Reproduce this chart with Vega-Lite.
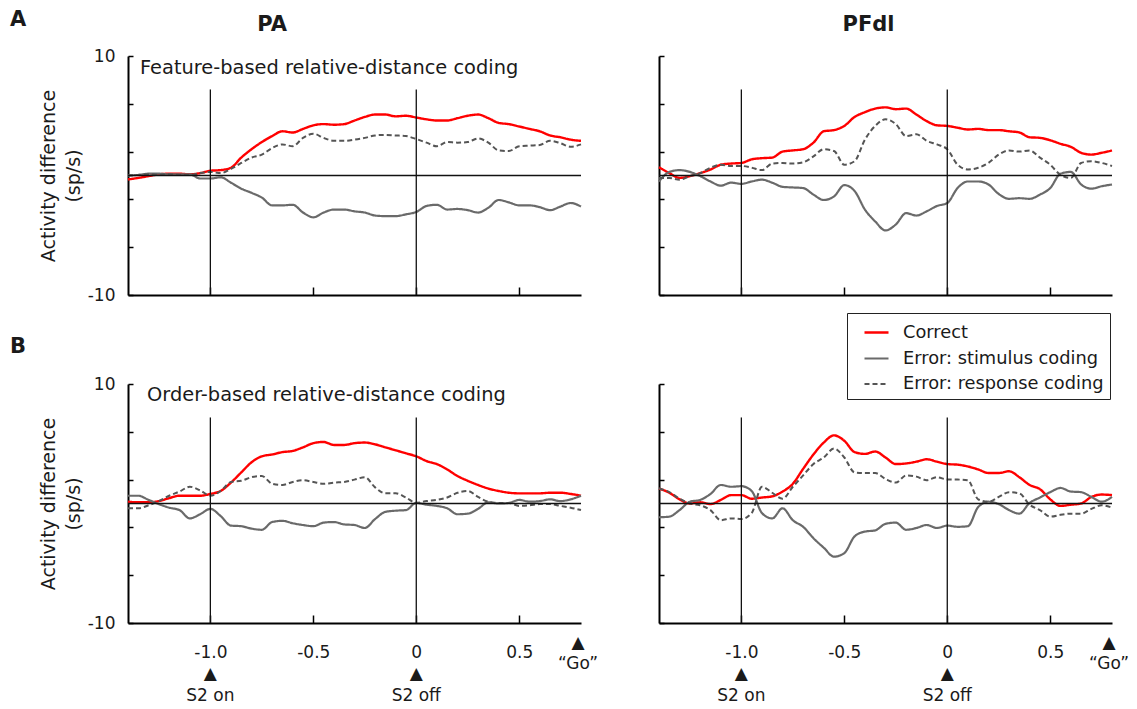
{
  "$schema": "https://vega.github.io/schema/vega-lite/v6.json",
  "autosize": {"type": "none"},
  "padding": {"left": 128, "top": 56, "right": 1009, "bottom": 653},
  "background": "#ffffff",
  "columns": 2,
  "spacing": {"row": 89, "column": 78},
  "bounds": "flush",
  "resolve": {"scale": {"color": "shared", "strokeDash": "shared", "strokeWidth": "shared"}},
  "datasets": {
    "LA": [
      {"t": -1.4, "Correct": -0.33, "Error: stimulus coding": 0, "Error: response coding": 0},
      {"t": -1.35, "Correct": -0.2, "Error: stimulus coding": 0.05, "Error: response coding": 0.05},
      {"t": -1.3, "Correct": -0.05, "Error: stimulus coding": 0.15, "Error: response coding": 0.1},
      {"t": -1.25, "Correct": 0.1, "Error: stimulus coding": 0.15, "Error: response coding": 0.05},
      {"t": -1.2, "Correct": 0.15, "Error: stimulus coding": 0.1, "Error: response coding": 0.1},
      {"t": -1.15, "Correct": 0.15, "Error: stimulus coding": 0.1, "Error: response coding": 0.05},
      {"t": -1.1, "Correct": 0.1, "Error: stimulus coding": 0.1, "Error: response coding": 0.05},
      {"t": -1.05, "Correct": 0.2, "Error: stimulus coding": -0.25, "Error: response coding": 0.2},
      {"t": -1.0, "Correct": 0.4, "Error: stimulus coding": -0.25, "Error: response coding": 0.3},
      {"t": -0.95, "Correct": 0.45, "Error: stimulus coding": -0.15, "Error: response coding": 0.2},
      {"t": -0.9, "Correct": 0.65, "Error: stimulus coding": -0.6, "Error: response coding": 0.55},
      {"t": -0.85, "Correct": 1.5, "Error: stimulus coding": -1.1, "Error: response coding": 1.05},
      {"t": -0.8, "Correct": 2.2, "Error: stimulus coding": -1.45, "Error: response coding": 1.5},
      {"t": -0.75, "Correct": 2.8, "Error: stimulus coding": -1.85, "Error: response coding": 1.75},
      {"t": -0.7, "Correct": 3.3, "Error: stimulus coding": -2.5, "Error: response coding": 2.3},
      {"t": -0.65, "Correct": 3.7, "Error: stimulus coding": -2.5, "Error: response coding": 2.6},
      {"t": -0.6, "Correct": 3.6, "Error: stimulus coding": -2.45, "Error: response coding": 2.45},
      {"t": -0.55, "Correct": 3.9, "Error: stimulus coding": -3.1, "Error: response coding": 3.15},
      {"t": -0.5, "Correct": 4.2, "Error: stimulus coding": -3.5, "Error: response coding": 3.5},
      {"t": -0.45, "Correct": 4.3, "Error: stimulus coding": -3.1, "Error: response coding": 3.15},
      {"t": -0.4, "Correct": 4.25, "Error: stimulus coding": -2.85, "Error: response coding": 2.9},
      {"t": -0.35, "Correct": 4.3, "Error: stimulus coding": -2.85, "Error: response coding": 2.9},
      {"t": -0.3, "Correct": 4.6, "Error: stimulus coding": -3.0, "Error: response coding": 3.0},
      {"t": -0.25, "Correct": 4.9, "Error: stimulus coding": -3.1, "Error: response coding": 3.15},
      {"t": -0.2, "Correct": 5.1, "Error: stimulus coding": -3.35, "Error: response coding": 3.35},
      {"t": -0.15, "Correct": 5.1, "Error: stimulus coding": -3.4, "Error: response coding": 3.4},
      {"t": -0.1, "Correct": 4.95, "Error: stimulus coding": -3.4, "Error: response coding": 3.35},
      {"t": -0.05, "Correct": 5.0, "Error: stimulus coding": -3.25, "Error: response coding": 3.3},
      {"t": 0, "Correct": 4.85, "Error: stimulus coding": -3.05, "Error: response coding": 3.05},
      {"t": 0.05, "Correct": 4.7, "Error: stimulus coding": -2.55, "Error: response coding": 2.75},
      {"t": 0.1, "Correct": 4.6, "Error: stimulus coding": -2.45, "Error: response coding": 2.45},
      {"t": 0.15, "Correct": 4.6, "Error: stimulus coding": -2.85, "Error: response coding": 2.8},
      {"t": 0.2, "Correct": 4.8, "Error: stimulus coding": -2.8, "Error: response coding": 2.75},
      {"t": 0.25, "Correct": 5.0, "Error: stimulus coding": -2.9, "Error: response coding": 2.8},
      {"t": 0.3, "Correct": 5.1, "Error: stimulus coding": -3.1, "Error: response coding": 3.1},
      {"t": 0.35, "Correct": 4.8, "Error: stimulus coding": -2.7, "Error: response coding": 2.75},
      {"t": 0.4, "Correct": 4.4, "Error: stimulus coding": -2.05, "Error: response coding": 2.1},
      {"t": 0.45, "Correct": 4.3, "Error: stimulus coding": -2.25, "Error: response coding": 2.05},
      {"t": 0.5, "Correct": 4.1, "Error: stimulus coding": -2.5, "Error: response coding": 2.45},
      {"t": 0.55, "Correct": 3.9, "Error: stimulus coding": -2.5, "Error: response coding": 2.5},
      {"t": 0.6, "Correct": 3.7, "Error: stimulus coding": -2.65, "Error: response coding": 2.55},
      {"t": 0.65, "Correct": 3.35, "Error: stimulus coding": -2.9, "Error: response coding": 2.9},
      {"t": 0.7, "Correct": 3.2, "Error: stimulus coding": -2.6, "Error: response coding": 2.7},
      {"t": 0.75, "Correct": 3.0, "Error: stimulus coding": -2.3, "Error: response coding": 2.4},
      {"t": 0.8, "Correct": 2.9, "Error: stimulus coding": -2.6, "Error: response coding": 2.6}
    ],
    "RA": [
      {"t": -1.4, "Correct": 0.7, "Error: stimulus coding": -0.5, "Error: response coding": -0.2},
      {"t": -1.35, "Correct": 0.2, "Error: stimulus coding": 0.3, "Error: response coding": -0.2},
      {"t": -1.3, "Correct": -0.2, "Error: stimulus coding": 0.45, "Error: response coding": -0.35},
      {"t": -1.25, "Correct": -0.05, "Error: stimulus coding": 0.3, "Error: response coding": -0.05},
      {"t": -1.2, "Correct": 0.2, "Error: stimulus coding": -0.05, "Error: response coding": 0.2},
      {"t": -1.15, "Correct": 0.5, "Error: stimulus coding": -0.5, "Error: response coding": 0.65},
      {"t": -1.1, "Correct": 0.9, "Error: stimulus coding": -0.85, "Error: response coding": 0.9},
      {"t": -1.05, "Correct": 1.0, "Error: stimulus coding": -0.6, "Error: response coding": 0.8},
      {"t": -1.0, "Correct": 1.05, "Error: stimulus coding": -0.7, "Error: response coding": 0.8},
      {"t": -0.95, "Correct": 1.35, "Error: stimulus coding": -0.5, "Error: response coding": 0.65},
      {"t": -0.9, "Correct": 1.45, "Error: stimulus coding": -0.35, "Error: response coding": 0.45},
      {"t": -0.85, "Correct": 1.5, "Error: stimulus coding": -0.6, "Error: response coding": 1.0},
      {"t": -0.8, "Correct": 2.0, "Error: stimulus coding": -0.95, "Error: response coding": 1.05},
      {"t": -0.75, "Correct": 2.1, "Error: stimulus coding": -1.0, "Error: response coding": 1.0},
      {"t": -0.7, "Correct": 2.2, "Error: stimulus coding": -1.05, "Error: response coding": 1.1},
      {"t": -0.65, "Correct": 2.75, "Error: stimulus coding": -1.6, "Error: response coding": 1.6},
      {"t": -0.6, "Correct": 3.7, "Error: stimulus coding": -2.05, "Error: response coding": 2.2},
      {"t": -0.55, "Correct": 3.8, "Error: stimulus coding": -1.75, "Error: response coding": 2.05},
      {"t": -0.5, "Correct": 4.15, "Error: stimulus coding": -0.8, "Error: response coding": 0.9},
      {"t": -0.45, "Correct": 4.9, "Error: stimulus coding": -1.3, "Error: response coding": 1.2},
      {"t": -0.4, "Correct": 5.3, "Error: stimulus coding": -2.85, "Error: response coding": 3.0},
      {"t": -0.35, "Correct": 5.6, "Error: stimulus coding": -3.85, "Error: response coding": 4.15},
      {"t": -0.3, "Correct": 5.7, "Error: stimulus coding": -4.6, "Error: response coding": 4.7},
      {"t": -0.25, "Correct": 5.55, "Error: stimulus coding": -4.1, "Error: response coding": 4.3},
      {"t": -0.2, "Correct": 5.6, "Error: stimulus coding": -3.15, "Error: response coding": 3.3},
      {"t": -0.15, "Correct": 5.1, "Error: stimulus coding": -3.35, "Error: response coding": 3.45},
      {"t": -0.1, "Correct": 4.55, "Error: stimulus coding": -3.0, "Error: response coding": 2.9},
      {"t": -0.05, "Correct": 4.2, "Error: stimulus coding": -2.55, "Error: response coding": 2.6},
      {"t": 0, "Correct": 4.15, "Error: stimulus coding": -2.3, "Error: response coding": 2.2},
      {"t": 0.05, "Correct": 4.0, "Error: stimulus coding": -1.05, "Error: response coding": 0.9},
      {"t": 0.1, "Correct": 3.85, "Error: stimulus coding": -0.5, "Error: response coding": 0.5},
      {"t": 0.15, "Correct": 3.9, "Error: stimulus coding": -0.5, "Error: response coding": 0.65},
      {"t": 0.2, "Correct": 3.8, "Error: stimulus coding": -0.75, "Error: response coding": 1.05},
      {"t": 0.25, "Correct": 3.8, "Error: stimulus coding": -1.55, "Error: response coding": 1.75},
      {"t": 0.3, "Correct": 3.7, "Error: stimulus coding": -1.95, "Error: response coding": 2.1},
      {"t": 0.35, "Correct": 3.6, "Error: stimulus coding": -1.9, "Error: response coding": 2.0},
      {"t": 0.4, "Correct": 3.2, "Error: stimulus coding": -1.95, "Error: response coding": 2.1},
      {"t": 0.45, "Correct": 3.15, "Error: stimulus coding": -1.6, "Error: response coding": 1.5},
      {"t": 0.5, "Correct": 2.95, "Error: stimulus coding": -1.05, "Error: response coding": 0.9},
      {"t": 0.55, "Correct": 2.65, "Error: stimulus coding": 0.15, "Error: response coding": 0.05},
      {"t": 0.6, "Correct": 2.4, "Error: stimulus coding": 0.3, "Error: response coding": -0.2},
      {"t": 0.65, "Correct": 1.9, "Error: stimulus coding": -0.75, "Error: response coding": 1.05},
      {"t": 0.7, "Correct": 1.75, "Error: stimulus coding": -1.1, "Error: response coding": 1.2},
      {"t": 0.75, "Correct": 1.9, "Error: stimulus coding": -0.9, "Error: response coding": 1.05},
      {"t": 0.8, "Correct": 2.1, "Error: stimulus coding": -0.75, "Error: response coding": 0.8}
    ],
    "LB": [
      {"t": -1.4, "Correct": 0.15, "Error: stimulus coding": 0.65, "Error: response coding": -0.4},
      {"t": -1.35, "Correct": 0.1, "Error: stimulus coding": 0.65, "Error: response coding": -0.4},
      {"t": -1.3, "Correct": 0.1, "Error: stimulus coding": 0.3, "Error: response coding": -0.15},
      {"t": -1.25, "Correct": 0.2, "Error: stimulus coding": -0.05, "Error: response coding": 0.2},
      {"t": -1.2, "Correct": 0.45, "Error: stimulus coding": -0.35, "Error: response coding": 0.65},
      {"t": -1.15, "Correct": 0.65, "Error: stimulus coding": -0.55, "Error: response coding": 1.0},
      {"t": -1.1, "Correct": 0.65, "Error: stimulus coding": -1.25, "Error: response coding": 1.4},
      {"t": -1.05, "Correct": 0.65, "Error: stimulus coding": -0.9, "Error: response coding": 1.1},
      {"t": -1.0, "Correct": 0.8, "Error: stimulus coding": -0.45, "Error: response coding": 0.65},
      {"t": -0.95, "Correct": 1.05, "Error: stimulus coding": -1.05, "Error: response coding": 1.05},
      {"t": -0.9, "Correct": 1.75, "Error: stimulus coding": -1.85, "Error: response coding": 1.8},
      {"t": -0.85, "Correct": 2.6, "Error: stimulus coding": -1.9, "Error: response coding": 1.9},
      {"t": -0.8, "Correct": 3.45, "Error: stimulus coding": -2.1, "Error: response coding": 2.2},
      {"t": -0.75, "Correct": 3.95, "Error: stimulus coding": -2.2, "Error: response coding": 2.3},
      {"t": -0.7, "Correct": 4.1, "Error: stimulus coding": -1.55, "Error: response coding": 1.65},
      {"t": -0.65, "Correct": 4.3, "Error: stimulus coding": -1.45, "Error: response coding": 1.55},
      {"t": -0.6, "Correct": 4.4, "Error: stimulus coding": -1.65, "Error: response coding": 1.8},
      {"t": -0.55, "Correct": 4.7, "Error: stimulus coding": -1.8, "Error: response coding": 1.95},
      {"t": -0.5, "Correct": 5.05, "Error: stimulus coding": -1.9, "Error: response coding": 1.8},
      {"t": -0.45, "Correct": 5.15, "Error: stimulus coding": -1.6, "Error: response coding": 1.65},
      {"t": -0.4, "Correct": 4.9, "Error: stimulus coding": -1.55, "Error: response coding": 1.75},
      {"t": -0.35, "Correct": 4.9, "Error: stimulus coding": -1.75, "Error: response coding": 1.8},
      {"t": -0.3, "Correct": 5.05, "Error: stimulus coding": -1.8, "Error: response coding": 2.0},
      {"t": -0.25, "Correct": 5.1, "Error: stimulus coding": -2.05, "Error: response coding": 2.2},
      {"t": -0.2, "Correct": 4.95, "Error: stimulus coding": -1.3, "Error: response coding": 1.35},
      {"t": -0.15, "Correct": 4.7, "Error: stimulus coding": -0.7, "Error: response coding": 0.85},
      {"t": -0.1, "Correct": 4.45, "Error: stimulus coding": -0.6, "Error: response coding": 0.85},
      {"t": -0.05, "Correct": 4.2, "Error: stimulus coding": -0.55, "Error: response coding": 0.5},
      {"t": 0, "Correct": 3.95, "Error: stimulus coding": 0.05, "Error: response coding": 0.05},
      {"t": 0.05, "Correct": 3.55, "Error: stimulus coding": -0.1, "Error: response coding": 0.2},
      {"t": 0.1, "Correct": 3.3, "Error: stimulus coding": -0.2, "Error: response coding": 0.3},
      {"t": 0.15, "Correct": 2.85, "Error: stimulus coding": -0.4, "Error: response coding": 0.5},
      {"t": 0.2, "Correct": 2.3, "Error: stimulus coding": -0.9, "Error: response coding": 0.9},
      {"t": 0.25, "Correct": 1.9, "Error: stimulus coding": -0.85, "Error: response coding": 1.05},
      {"t": 0.3, "Correct": 1.55, "Error: stimulus coding": -0.45, "Error: response coding": 0.55},
      {"t": 0.35, "Correct": 1.25, "Error: stimulus coding": 0.1, "Error: response coding": 0.15},
      {"t": 0.4, "Correct": 1.05, "Error: stimulus coding": 0, "Error: response coding": 0.05},
      {"t": 0.45, "Correct": 0.9, "Error: stimulus coding": 0.05, "Error: response coding": 0.05},
      {"t": 0.5, "Correct": 0.85, "Error: stimulus coding": 0.3, "Error: response coding": -0.2},
      {"t": 0.55, "Correct": 0.85, "Error: stimulus coding": 0.15, "Error: response coding": -0.15},
      {"t": 0.6, "Correct": 0.85, "Error: stimulus coding": 0.2, "Error: response coding": -0.05},
      {"t": 0.65, "Correct": 0.9, "Error: stimulus coding": 0.35, "Error: response coding": -0.05},
      {"t": 0.7, "Correct": 0.9, "Error: stimulus coding": 0.2, "Error: response coding": -0.2},
      {"t": 0.75, "Correct": 0.8, "Error: stimulus coding": 0.35, "Error: response coding": -0.35},
      {"t": 0.8, "Correct": 0.65, "Error: stimulus coding": 0.65, "Error: response coding": -0.55}
    ],
    "RB": [
      {"t": -1.4, "Correct": 1.25, "Error: stimulus coding": -1.15, "Error: response coding": 1.25},
      {"t": -1.35, "Correct": 0.9, "Error: stimulus coding": -1.1, "Error: response coding": 0.95},
      {"t": -1.3, "Correct": 0.35, "Error: stimulus coding": -0.55, "Error: response coding": 0.4},
      {"t": -1.25, "Correct": 0, "Error: stimulus coding": 0.15, "Error: response coding": 0},
      {"t": -1.2, "Correct": 0.1, "Error: stimulus coding": 0.3, "Error: response coding": -0.15},
      {"t": -1.15, "Correct": -0.05, "Error: stimulus coding": 0.8, "Error: response coding": -0.55},
      {"t": -1.1, "Correct": 0.3, "Error: stimulus coding": 1.55, "Error: response coding": -1.4},
      {"t": -1.05, "Correct": 0.7, "Error: stimulus coding": 1.4, "Error: response coding": -1.25},
      {"t": -1.0, "Correct": 0.7, "Error: stimulus coding": 1.45, "Error: response coding": -1.3},
      {"t": -0.95, "Correct": 0.4, "Error: stimulus coding": 1.05, "Error: response coding": -0.8},
      {"t": -0.9, "Correct": 0.5, "Error: stimulus coding": -0.8, "Error: response coding": 1.4},
      {"t": -0.85, "Correct": 0.6, "Error: stimulus coding": -1.25, "Error: response coding": 0.9},
      {"t": -0.8, "Correct": 1.0, "Error: stimulus coding": -0.4, "Error: response coding": 0.4},
      {"t": -0.75, "Correct": 1.65, "Error: stimulus coding": -1.4, "Error: response coding": 1.4},
      {"t": -0.7, "Correct": 2.9, "Error: stimulus coding": -1.95, "Error: response coding": 2.35},
      {"t": -0.65, "Correct": 4.1, "Error: stimulus coding": -2.9, "Error: response coding": 3.3},
      {"t": -0.6, "Correct": 5.1, "Error: stimulus coding": -3.7, "Error: response coding": 3.85},
      {"t": -0.55, "Correct": 5.7, "Error: stimulus coding": -4.45, "Error: response coding": 4.6},
      {"t": -0.5, "Correct": 5.25, "Error: stimulus coding": -4.15, "Error: response coding": 3.85},
      {"t": -0.45, "Correct": 4.3, "Error: stimulus coding": -2.75, "Error: response coding": 2.6},
      {"t": -0.4, "Correct": 4.15, "Error: stimulus coding": -2.35, "Error: response coding": 2.55},
      {"t": -0.35, "Correct": 4.35, "Error: stimulus coding": -2.25, "Error: response coding": 2.55},
      {"t": -0.3, "Correct": 3.85, "Error: stimulus coding": -1.7, "Error: response coding": 2.05},
      {"t": -0.25, "Correct": 3.3, "Error: stimulus coding": -1.6, "Error: response coding": 1.75},
      {"t": -0.2, "Correct": 3.35, "Error: stimulus coding": -2.2, "Error: response coding": 2.35},
      {"t": -0.15, "Correct": 3.5, "Error: stimulus coding": -2.05, "Error: response coding": 2.25},
      {"t": -0.1, "Correct": 3.7, "Error: stimulus coding": -1.8, "Error: response coding": 1.95},
      {"t": -0.05, "Correct": 3.5, "Error: stimulus coding": -2.05, "Error: response coding": 2.2},
      {"t": 0, "Correct": 3.3, "Error: stimulus coding": -1.85, "Error: response coding": 2.0},
      {"t": 0.05, "Correct": 3.25, "Error: stimulus coding": -1.95, "Error: response coding": 2.0},
      {"t": 0.1, "Correct": 3.1, "Error: stimulus coding": -1.9, "Error: response coding": 1.95},
      {"t": 0.15, "Correct": 2.85, "Error: stimulus coding": -0.3, "Error: response coding": 0.35},
      {"t": 0.2, "Correct": 2.55, "Error: stimulus coding": 0.15, "Error: response coding": 0.15},
      {"t": 0.25, "Correct": 2.55, "Error: stimulus coding": -0.05, "Error: response coding": 0.55},
      {"t": 0.3, "Correct": 2.7, "Error: stimulus coding": -0.55, "Error: response coding": 0.95},
      {"t": 0.35, "Correct": 2.2, "Error: stimulus coding": -0.85, "Error: response coding": 0.85},
      {"t": 0.4, "Correct": 1.55, "Error: stimulus coding": 0.05, "Error: response coding": -0.1},
      {"t": 0.45, "Correct": 1.2, "Error: stimulus coding": 0.5, "Error: response coding": -0.55},
      {"t": 0.5, "Correct": 0.35, "Error: stimulus coding": 0.95, "Error: response coding": -1.1},
      {"t": 0.55, "Correct": -0.2, "Error: stimulus coding": 1.3, "Error: response coding": -0.95},
      {"t": 0.6, "Correct": -0.1, "Error: stimulus coding": 1.0, "Error: response coding": -0.85},
      {"t": 0.65, "Correct": 0, "Error: stimulus coding": 0.95, "Error: response coding": -0.85},
      {"t": 0.7, "Correct": 0.55, "Error: stimulus coding": 0.55, "Error: response coding": -0.45},
      {"t": 0.75, "Correct": 0.75, "Error: stimulus coding": 0.15, "Error: response coding": -0.15},
      {"t": 0.8, "Correct": 0.7, "Error: stimulus coding": 0.55, "Error: response coding": -0.35}
    ]
  },
  "concat": [
    {
      "width": 453, "height": 239,
      "layer": [
        {
          "data": {"name": "LA"},
          "transform": [{"fold": ["Correct", "Error: stimulus coding", "Error: response coding"], "as": ["series", "v"]}],
          "mark": {"type": "line", "interpolate": "monotone"},
          "encoding": {
            "x": {"field": "t", "type": "quantitative", "scale": {"domain": [-1.4, 0.8], "nice": false, "zero": false}, "axis": {"values": [-1, -0.5, 0, 0.5], "labels": false, "title": null, "tickSize": -8}},
            "y": {"field": "v", "type": "quantitative", "scale": {"domain": [-10, 10], "nice": false}, "axis": {"values": [-10, -8, -6, -4, -2, 0, 2, 4, 6, 8, 10], "labelExpr": "datum.value == 10 ? '10' : datum.value == 0 ? '0' : datum.value == -10 ? '-10' : ''", "title": ["Activity difference", "(sp/s)"]}},
            "color": {"field": "series", "type": "nominal", "scale": {"domain": ["Correct", "Error: stimulus coding", "Error: response coding"], "range": ["#ff0000", "#6a6a6a", "#555555"]}, "legend": {"title": null, "orient": "none", "legendX": 719, "legendY": 257}},
            "strokeDash": {"field": "series", "type": "nominal", "scale": {"domain": ["Correct", "Error: stimulus coding", "Error: response coding"], "range": [[1, 0], [1, 0], [5, 3]]}, "legend": {"title": null, "orient": "none", "legendX": 719, "legendY": 257}},
            "strokeWidth": {"field": "series", "type": "nominal", "scale": {"domain": ["Correct", "Error: stimulus coding", "Error: response coding"], "range": [2.4, 2, 1.2]}, "legend": {"title": null, "orient": "none", "legendX": 719, "legendY": 257}}
          }
        },
        {"data": {"values": [{"z": 0}]}, "mark": {"type": "rule", "color": "#111111", "strokeWidth": 1.3}, "encoding": {"y": {"datum": 0}}},
        {"data": {"values": [{"t": -1}, {"t": 0}]}, "mark": {"type": "rule", "color": "#111111", "strokeWidth": 1.3}, "encoding": {"x": {"field": "t", "type": "quantitative"}, "y": {"datum": 7.2}, "y2": {"datum": -10}}},
        {"data": {"values": [{"lab": "Feature-based relative-distance coding"}]}, "mark": {"type": "text", "align": "left", "baseline": "top", "fontSize": 19.4, "color": "#1a1a1a", "dx": 12, "dy": 3}, "encoding": {"x": {"datum": -1.4}, "y": {"datum": 10}, "text": {"field": "lab"}}},
        {"data": {"values": [{"lab": "A"}]}, "mark": {"type": "text", "align": "left", "baseline": "top", "fontSize": 21, "fontWeight": "bold", "color": "#1a1a1a", "dx": -118, "dy": -47}, "encoding": {"x": {"datum": -1.4}, "y": {"datum": 10}, "text": {"field": "lab"}}},
        {"data": {"values": [{"lab": "PA"}]}, "mark": {"type": "text", "align": "center", "baseline": "top", "fontSize": 21, "fontWeight": "bold", "color": "#1a1a1a", "dy": -42}, "encoding": {"x": {"datum": -0.7}, "y": {"datum": 10}, "text": {"field": "lab"}}}
      ]
    },
    {
      "width": 453, "height": 239,
      "title": {"text": "PFdl", "dx": -17},
      "layer": [
        {
          "data": {"name": "RA"},
          "transform": [{"fold": ["Correct", "Error: stimulus coding", "Error: response coding"], "as": ["series", "v"]}],
          "mark": {"type": "line", "interpolate": "monotone"},
          "encoding": {
            "x": {"field": "t", "type": "quantitative", "scale": {"domain": [-1.4, 0.8], "nice": false, "zero": false}, "axis": {"values": [-1, -0.5, 0, 0.5], "labels": false, "title": null, "tickSize": -8}},
            "y": {"field": "v", "type": "quantitative", "scale": {"domain": [-10, 10], "nice": false}, "axis": {"values": [-10, -8, -6, -4, -2, 0, 2, 4, 6, 8, 10], "labels": false, "title": null}},
            "color": {"field": "series", "type": "nominal"},
            "strokeDash": {"field": "series", "type": "nominal"},
            "strokeWidth": {"field": "series", "type": "nominal"}
          }
        },
        {"data": {"values": [{"z": 0}]}, "mark": {"type": "rule", "color": "#111111", "strokeWidth": 1.3}, "encoding": {"y": {"datum": 0}}},
        {"data": {"values": [{"t": -1}, {"t": 0}]}, "mark": {"type": "rule", "color": "#111111", "strokeWidth": 1.3}, "encoding": {"x": {"field": "t", "type": "quantitative"}, "y": {"datum": 7.2}, "y2": {"datum": -10}}}
      ]
    },
    {
      "width": 453, "height": 239,
      "layer": [
        {
          "data": {"name": "LB"},
          "transform": [{"fold": ["Correct", "Error: stimulus coding", "Error: response coding"], "as": ["series", "v"]}],
          "mark": {"type": "line", "interpolate": "monotone"},
          "encoding": {
            "x": {"field": "t", "type": "quantitative", "scale": {"domain": [-1.4, 0.8], "nice": false, "zero": false}, "axis": {"values": [-1, -0.5, 0, 0.5], "labelExpr": "datum.value == -1 ? '-1.0' : datum.value == -0.5 ? '-0.5' : datum.value == 0 ? '0' : '0.5'", "title": null, "tickSize": -8, "labelPadding": 29}},
            "y": {"field": "v", "type": "quantitative", "scale": {"domain": [-10, 10], "nice": false}, "axis": {"values": [-10, -8, -6, -4, -2, 0, 2, 4, 6, 8, 10], "labelExpr": "datum.value == 10 ? '10' : datum.value == 0 ? '0' : datum.value == -10 ? '-10' : ''", "title": ["Activity difference", "(sp/s)"]}},
            "color": {"field": "series", "type": "nominal"},
            "strokeDash": {"field": "series", "type": "nominal"},
            "strokeWidth": {"field": "series", "type": "nominal"}
          }
        },
        {"data": {"values": [{"z": 0}]}, "mark": {"type": "rule", "color": "#111111", "strokeWidth": 1.3}, "encoding": {"y": {"datum": 0}}},
        {"data": {"values": [{"t": -1}, {"t": 0}]}, "mark": {"type": "rule", "color": "#111111", "strokeWidth": 1.3}, "encoding": {"x": {"field": "t", "type": "quantitative"}, "y": {"datum": 7.2}, "y2": {"datum": -10}}},
        {"data": {"values": [{"lab": "Order-based relative-distance coding"}]}, "mark": {"type": "text", "align": "left", "baseline": "top", "fontSize": 19.4, "color": "#1a1a1a", "dx": 19, "dy": 2}, "encoding": {"x": {"datum": -1.4}, "y": {"datum": 10}, "text": {"field": "lab"}}},
        {"data": {"values": [{"lab": "B"}]}, "mark": {"type": "text", "align": "left", "baseline": "top", "fontSize": 21, "fontWeight": "bold", "color": "#1a1a1a", "dx": -118, "dy": -48}, "encoding": {"x": {"datum": -1.4}, "y": {"datum": 10}, "text": {"field": "lab"}}},
        {"data": {"values": [{"t": -1, "lab": "▲\nS2 on"}, {"t": 0, "lab": "▲\nS2 off"}]}, "mark": {"type": "text", "align": "center", "baseline": "top", "fontSize": 17, "lineBreak": "\n", "lineHeight": 22, "color": "#1a1a1a", "dy": 43}, "encoding": {"x": {"field": "t", "type": "quantitative"}, "y": {"datum": -10}, "text": {"field": "lab"}}},
        {"data": {"values": [{"t": 0.8, "lab": "▲\n“Go”"}]}, "mark": {"type": "text", "align": "center", "baseline": "top", "fontSize": 17, "lineBreak": "\n", "lineHeight": 21, "color": "#1a1a1a", "dy": 12, "dx": -3}, "encoding": {"x": {"field": "t", "type": "quantitative"}, "y": {"datum": -10}, "text": {"field": "lab"}}}
      ]
    },
    {
      "width": 453, "height": 239,
      "layer": [
        {
          "data": {"name": "RB"},
          "transform": [{"fold": ["Correct", "Error: stimulus coding", "Error: response coding"], "as": ["series", "v"]}],
          "mark": {"type": "line", "interpolate": "monotone"},
          "encoding": {
            "x": {"field": "t", "type": "quantitative", "scale": {"domain": [-1.4, 0.8], "nice": false, "zero": false}, "axis": {"values": [-1, -0.5, 0, 0.5], "labelExpr": "datum.value == -1 ? '-1.0' : datum.value == -0.5 ? '-0.5' : datum.value == 0 ? '0' : '0.5'", "title": null, "tickSize": -8, "labelPadding": 29}},
            "y": {"field": "v", "type": "quantitative", "scale": {"domain": [-10, 10], "nice": false}, "axis": {"values": [-10, -8, -6, -4, -2, 0, 2, 4, 6, 8, 10], "labels": false, "title": null}},
            "color": {"field": "series", "type": "nominal"},
            "strokeDash": {"field": "series", "type": "nominal"},
            "strokeWidth": {"field": "series", "type": "nominal"}
          }
        },
        {"data": {"values": [{"z": 0}]}, "mark": {"type": "rule", "color": "#111111", "strokeWidth": 1.3}, "encoding": {"y": {"datum": 0}}},
        {"data": {"values": [{"t": -1}, {"t": 0}]}, "mark": {"type": "rule", "color": "#111111", "strokeWidth": 1.3}, "encoding": {"x": {"field": "t", "type": "quantitative"}, "y": {"datum": 7.2}, "y2": {"datum": -10}}},
        {"data": {"values": [{"t": -1, "lab": "▲\nS2 on"}, {"t": 0, "lab": "▲\nS2 off"}]}, "mark": {"type": "text", "align": "center", "baseline": "top", "fontSize": 17, "lineBreak": "\n", "lineHeight": 22, "color": "#1a1a1a", "dy": 43}, "encoding": {"x": {"field": "t", "type": "quantitative"}, "y": {"datum": -10}, "text": {"field": "lab"}}},
        {"data": {"values": [{"t": 0.8, "lab": "▲\n“Go”"}]}, "mark": {"type": "text", "align": "center", "baseline": "top", "fontSize": 17, "lineBreak": "\n", "lineHeight": 21, "color": "#1a1a1a", "dy": 12, "dx": -3}, "encoding": {"x": {"field": "t", "type": "quantitative"}, "y": {"datum": -10}, "text": {"field": "lab"}}}
      ]
    }
  ],
  "config": {
    "font": "DejaVu Sans",
    "view": {"stroke": null},
    "title": {"font": "DejaVu Sans", "fontSize": 21, "fontWeight": "bold", "color": "#1a1a1a", "offset": 20, "anchor": "middle"},
    "axis": {"domainColor": "#000000", "domainWidth": 2, "tickColor": "#000000", "tickWidth": 1.5, "tickSize": -5, "grid": false, "labelFont": "DejaVu Sans", "labelFontSize": 17, "labelColor": "#1a1a1a", "labelPadding": 18, "titleFont": "DejaVu Sans", "titleFontSize": 19, "titleFontWeight": "normal", "titleColor": "#1a1a1a", "titleLineHeight": 25, "titlePadding": 4},
    "legend": {"strokeColor": "#222222", "fillColor": "#ffffff", "padding": 6, "rowPadding": 3, "labelFont": "DejaVu Sans", "labelFontSize": 17.8, "labelColor": "#1a1a1a", "labelLimit": 400, "symbolType": "stroke", "symbolSize": 576, "symbolStrokeWidth": 2, "symbolOffset": 10, "labelOffset": 13}
  }
}
